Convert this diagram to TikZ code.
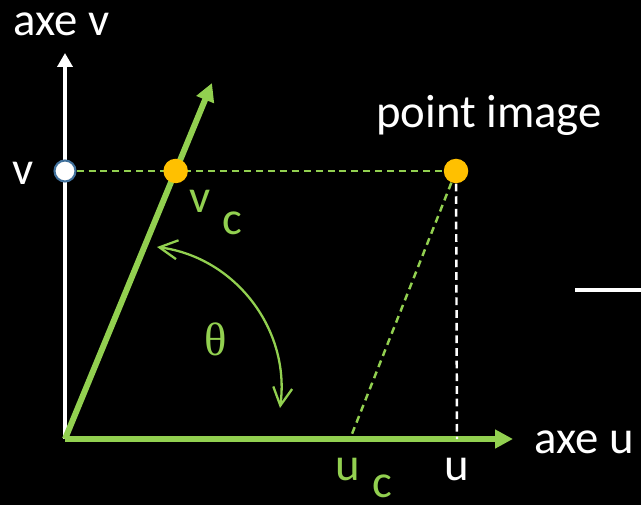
\documentclass[tikz,border=0pt]{standalone}
\usepackage{fontspec}
\setmainfont{Carlito}
\newfontfamily\thetafont{Liberation Serif}
\usetikzlibrary{arrows.meta}
\definecolor{axisgreen}{HTML}{92D050}
\definecolor{dotyellow}{HTML}{FFC000}
\definecolor{ringblue}{HTML}{41719C}
\pgfdeclarelayer{bg}
\pgfdeclarelayer{back}
\pgfsetlayers{bg,back,main}

\begin{document}
\begin{tikzpicture}[>=Latex,
 lbl/.style={font=\fontsize{26.6}{30}\selectfont,inner sep=0pt,anchor=base},
 whitelbl/.style={lbl,text=white},
 greenlbl/.style={lbl,text=axisgreen},
 dot/.style={circle,inner sep=0pt,minimum size=0.49cm,fill=dotyellow},
 hollow/.style={circle,inner sep=0pt,minimum size=0.42cm,fill=white,draw=ringblue,line width=1.2pt},
 vaxis/.style={-{Triangle[length=0.28cm,width=0.30cm]},line width=2pt,white},
 gaxis/.style={-{Triangle[length=0.36cm,width=0.36cm]},line width=3.4pt,axisgreen},
 gdash/.style={axisgreen,line width=1.4pt,dash pattern=on 4pt off 2.8pt},
 wdash/.style={white,line width=1.4pt,dash pattern=on 4.4pt off 2.8pt},
 anglearrow/.style={{Straight Barb[length=0.36cm,width=0.38cm]}-{Straight Barb[length=0.36cm,width=0.38cm]},line width=1.3pt,axisgreen}]
\begin{pgfonlayer}{bg}
\fill[black] (0,0) rectangle (12.82,10.10);
\end{pgfonlayer}
\useasboundingbox (0,0) rectangle (12.82,10.10);
\coordinate (O) at (1.30,1.32);
\coordinate (vtip) at (1.30,9.04);
\coordinate (ctip) at (4.24,8.44);
\coordinate (utip) at (10.26,1.32);
\coordinate (uc) at (7.00,1.32);
\coordinate (u) at (9.14,1.32);
\coordinate (th1) at (3.14,5.16);
\coordinate (th2) at (5.60,1.94);
\coordinate (cut) at (11.50,4.30);
\coordinate (cutend) at (12.82,4.30);
\node[hollow] (v) at (1.30,6.68) {};
\node[dot] (img) at (9.12,6.68) {};
\node[dot] (vc) at (intersection of O--ctip and v--img) {};
\node[whitelbl] (laxev) at (1.23,9.38) {axe v};
\node[whitelbl] (lv) at (0.46,6.40) {v};
\node[whitelbl] (limg) at (9.78,7.54) {point image};
\node[greenlbl] (lvc) at (4.00,5.84) {v};
\node[greenlbl] (lvcc) at (4.64,5.40) {c};
\node[greenlbl,font=\thetafont\fontsize{26.6}{30}\selectfont] (ltheta) at (4.31,3.00) {θ};
\node[greenlbl] (luc) at (6.96,0.50) {u};
\node[greenlbl] (lucc) at (7.64,0.16) {c};
\node[whitelbl] (lu) at (9.14,0.50) {u};
\node[whitelbl] (laxeu) at (11.68,1.04) {axe u};
\begin{pgfonlayer}{back}
\draw[vaxis] (O) -- (vtip);
\draw[gaxis] (O) -- (utip);
\draw[gaxis] (O) -- (ctip);
\draw[gdash] (v) -- (img);
\draw[wdash] (img) -- (u);
\draw[gdash] (img) -- (uc);
\end{pgfonlayer}
\draw[anglearrow] (th1) to[bend left=45] (th2);
\draw[white,line width=2pt] (cut) -- (cutend);
\end{tikzpicture}
\end{document}
